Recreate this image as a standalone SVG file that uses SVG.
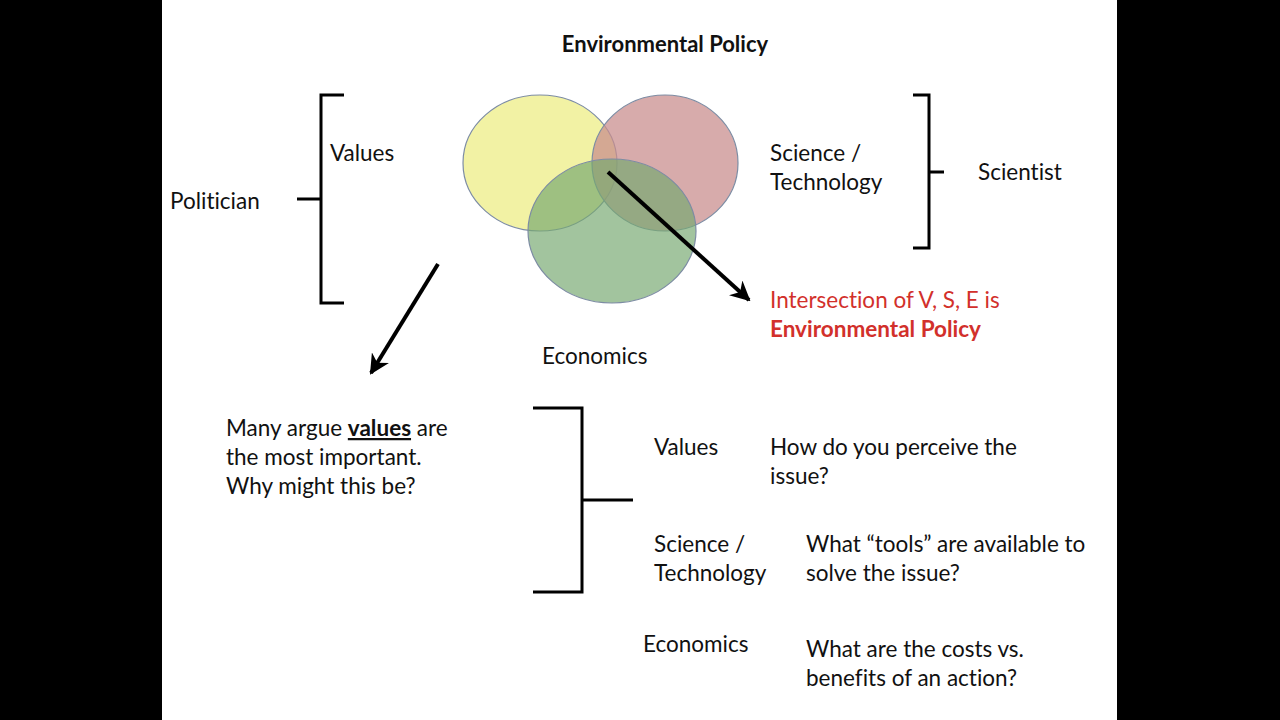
<svg xmlns="http://www.w3.org/2000/svg" width="1280" height="720" viewBox="0 0 1280 720">
<defs>
<style>
text{font-family:Lato,"Liberation Sans",sans-serif;font-size:22.5px;fill:#111;font-variant-ligatures:none}
.b{font-weight:bold}
.red{fill:#d2302b}
.br{fill:none;stroke:#000;stroke-width:3}
.conn{stroke:#000;stroke-width:4;fill:none}
.ven{stroke:#7d8ca3;stroke-width:1.2}
</style>
<marker id="ah" viewBox="0 0 10 10" refX="9" refY="5" markerWidth="5" markerHeight="5" orient="auto" markerUnits="strokeWidth">
<path d="M0,0 L10,5 L0,10 L3,5 z" fill="#000"/>
</marker>
</defs>
<rect x="0" y="0" width="1280" height="720" fill="#000"/>
<rect x="162" y="0" width="955" height="720" fill="#fff"/>

<g id="title"><text class="b" x="665" y="52" text-anchor="middle" style="font-size:22px">Environmental Policy</text></g>

<g id="venn">
<ellipse id="values-circle" class="ven" cx="540" cy="163" rx="77" ry="68" fill="#eded86" fill-opacity="0.75"/>
<ellipse id="science-circle" class="ven" cx="665" cy="163" rx="73" ry="68" fill="#c98d8d" fill-opacity="0.74"/>
<ellipse id="economics-circle" class="ven" cx="612" cy="231" rx="84" ry="72" fill="#76a870" fill-opacity="0.68"/>
</g>

<g id="connectors">
<line class="conn" x1="608" y1="172" x2="749" y2="300" marker-end="url(#ah)"/>
<line class="conn" x1="438" y1="264" x2="371" y2="373" marker-end="url(#ah)"/>
</g>

<g id="politician-bracket">
<path class="br" d="M344,95 H321 V303 H344 M297,199 H321"/>
<text x="330" y="161">Values</text>
<text x="170" y="209">Politician</text>
</g>

<g id="scientist-bracket">
<path class="br" d="M913,95 H929 V248 H913 M929,172 H944"/>
<text x="770" y="161">Science /</text>
<text x="770" y="190">Technology</text>
<text x="978" y="180">Scientist</text>
</g>

<g id="intersection-label">
<text class="red" x="770" y="308">Intersection of V, S, E is</text>
<text class="red b" x="770" y="337">Environmental Policy</text>
</g>

<g id="economics-label"><text x="542" y="364">Economics</text></g>

<g id="values-note">
<text x="226" y="436">Many argue <tspan class="b" text-decoration="underline">values</tspan> are</text>
<text x="226" y="465">the most important.</text>
<text x="226" y="494">Why might this be?</text>
</g>

<g id="bottom-bracket">
<path class="br" d="M533,408 H582 V592 H533 M582,500 H633"/>
</g>

<g id="values-row">
<text x="654" y="455">Values</text>
<text x="770" y="455">How do you perceive the</text>
<text x="770" y="484">issue?</text>
</g>
<g id="science-row">
<text x="654" y="552">Science /</text>
<text x="654" y="581">Technology</text>
<text x="806" y="552">What “tools” are available to</text>
<text x="806" y="581">solve the issue?</text>
</g>
<g id="economics-row">
<text x="643" y="652">Economics</text>
<text x="806" y="657">What are the costs vs.</text>
<text x="806" y="686">benefits of an action?</text>
</g>
</svg>
